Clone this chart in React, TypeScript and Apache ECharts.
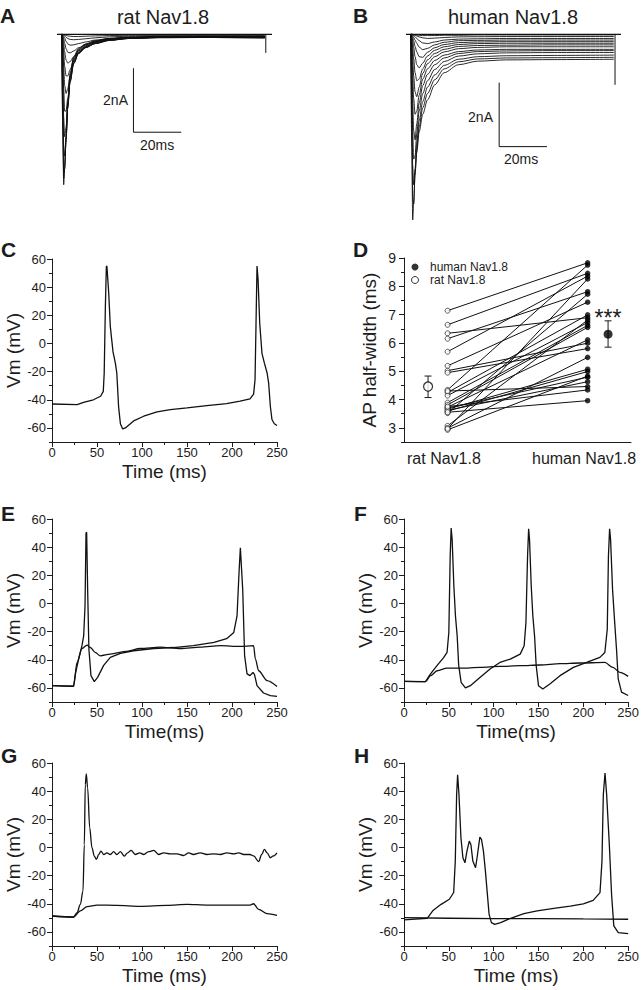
import React, { useEffect, useRef } from 'react';
import * as echarts from 'echarts';

const FONT = '"Liberation Sans", Arial, Helvetica, sans-serif';
const INK = '#1c1c1c';

// ---------- Panels A / B : Na+ current families ----------
const STEP_TIMES = [0, 0.4, 0.8, 1.2, 1.8, 2.5, 3.5, 5, 7, 10, 14, 20, 28, 40, 60, 85];
const RAT_CURRENTS = [
  [0, -3.0, -4.7, -4.2, -3.2, -2.1, -1.2, -0.7, -0.45, -0.3, -0.2, -0.13, -0.09, -0.07, -0.06, -0.06],
  [0, -2.6, -4.5, -4.2, -3.3, -2.2, -1.3, -0.74, -0.48, -0.32, -0.21, -0.14, -0.1, -0.08, -0.07, -0.07],
  [0, -2.2, -4.3, -4.1, -3.3, -2.3, -1.35, -0.78, -0.5, -0.33, -0.22, -0.14, -0.1, -0.08, -0.07, -0.07],
  [0, -1.5, -3.5, -3.8, -3.2, -2.3, -1.45, -0.85, -0.55, -0.36, -0.24, -0.16, -0.11, -0.09, -0.08, -0.08],
  [0, -0.9, -2.6, -3.2, -2.9, -2.2, -1.5, -0.9, -0.58, -0.39, -0.26, -0.17, -0.12, -0.1, -0.09, -0.09],
  [0, -0.5, -1.7, -2.4, -2.4, -2.0, -1.45, -0.92, -0.6, -0.41, -0.28, -0.18, -0.13, -0.1, -0.09, -0.1],
  [0, -0.3, -1.0, -1.6, -1.85, -1.7, -1.3, -0.9, -0.6, -0.42, -0.29, -0.19, -0.13, -0.1, -0.1, -0.11],
  [0, -0.15, -0.55, -1.0, -1.3, -1.3, -1.1, -0.82, -0.58, -0.41, -0.29, -0.19, -0.13, -0.11, -0.1, -0.11],
  [0, -0.08, -0.3, -0.55, -0.8, -0.9, -0.85, -0.7, -0.52, -0.38, -0.27, -0.18, -0.13, -0.1, -0.1, -0.11],
  [0, -0.04, -0.14, -0.28, -0.45, -0.56, -0.58, -0.52, -0.42, -0.32, -0.24, -0.16, -0.11, -0.09, -0.09, -0.1],
  [0, -0.02, -0.06, -0.12, -0.22, -0.3, -0.34, -0.33, -0.29, -0.24, -0.18, -0.13, -0.09, -0.07, -0.07, -0.08],
  [0, -0.01, -0.02, -0.05, -0.09, -0.13, -0.16, -0.17, -0.16, -0.14, -0.11, -0.08, -0.06, -0.05, -0.05, -0.05],
  [0, 0, -0.01, -0.02, -0.03, -0.05, -0.06, -0.07, -0.07, -0.06, -0.05, -0.04, -0.03, -0.03, -0.03, -0.03],
];
const HUMAN_CURRENTS = [
  [0, -3.5, -5.8, -5.3, -4.3, -3.7, -3.05, -2.5, -2.05, -1.58, -1.2, -0.95, -0.84, -0.8, -0.79, -0.78],
  [0, -2.6, -5.1, -5.3, -4.4, -3.6, -2.9, -2.3, -1.85, -1.42, -1.08, -0.86, -0.77, -0.74, -0.73, -0.72],
  [0, -1.8, -4.1, -4.7, -4.2, -3.4, -2.7, -2.1, -1.65, -1.27, -0.97, -0.78, -0.7, -0.67, -0.66, -0.65],
  [0, -1.1, -3.0, -3.9, -3.8, -3.1, -2.4, -1.85, -1.45, -1.1, -0.85, -0.68, -0.61, -0.58, -0.57, -0.57],
  [0, -0.6, -2.0, -3.0, -3.3, -2.8, -2.15, -1.6, -1.25, -0.95, -0.74, -0.6, -0.54, -0.52, -0.51, -0.51],
  [0, -0.35, -1.2, -2.0, -2.5, -2.4, -1.9, -1.4, -1.08, -0.82, -0.65, -0.54, -0.49, -0.47, -0.47, -0.47],
  [0, -0.2, -0.7, -1.3, -1.8, -1.95, -1.65, -1.22, -0.92, -0.7, -0.55, -0.45, -0.41, -0.39, -0.39, -0.39],
  [0, -0.1, -0.4, -0.75, -1.2, -1.45, -1.4, -1.08, -0.8, -0.6, -0.47, -0.38, -0.35, -0.34, -0.33, -0.33],
  [0, -0.05, -0.2, -0.4, -0.7, -0.95, -1.05, -0.9, -0.68, -0.5, -0.39, -0.32, -0.29, -0.28, -0.28, -0.28],
  [0, -0.03, -0.1, -0.2, -0.38, -0.55, -0.7, -0.72, -0.56, -0.42, -0.32, -0.26, -0.24, -0.23, -0.23, -0.23],
  [0, -0.01, -0.05, -0.1, -0.18, -0.28, -0.4, -0.48, -0.44, -0.33, -0.25, -0.2, -0.19, -0.18, -0.18, -0.18],
  [0, 0, -0.02, -0.04, -0.08, -0.13, -0.2, -0.27, -0.29, -0.24, -0.18, -0.15, -0.14, -0.13, -0.13, -0.13],
  [0, 0, -0.01, -0.02, -0.03, -0.05, -0.08, -0.11, -0.13, -0.12, -0.1, -0.08, -0.075, -0.07, -0.07, -0.07],
  [0, 0, 0, -0.01, -0.01, -0.02, -0.03, -0.04, -0.04, -0.04, -0.03, -0.03, -0.02, -0.02, -0.02, -0.02],
];
const RAT_HOLDING = [[-2, 0], [88, 0]];
const RAT_TAIL = [[85.4, 0], [85.4, -0.58]];
const HUMAN_HOLDING = [[-2, 0], [88, 0]];
const HUMAN_TAIL = [[85.5, 0], [85.5, -1.58]];
const RAT_SCALE_BAR = [[30, -1.06], [30, -3.06], [50, -3.06]];
const HUMAN_SCALE_BAR = [[37, -1.51], [37, -3.51], [57, -3.51]];

// ---------- Panel C ----------
const C_TRACE = [
  [0, -43], [28, -43.5], [35, -41.8], [46, -40], [54, -37.5], [57, -34], [58, -21], [59.3, 26], [60.4, 54.6],
  [61, 55], [63, 36], [64.8, 12], [67.8, -6], [70.4, -14], [72, -21], [74, -45], [76, -57], [78.5, -60.7],
  [81.5, -60], [90.7, -55], [101.9, -51.7], [116.7, -48.6], [131.5, -47], [150, -45.8], [172, -44.2],
  [194, -42.7], [209, -41], [220, -39.4], [224, -36], [225.6, -25.7], [226.7, 14.4], [227.8, 55], [229, 45],
  [230.8, 14.4], [233.3, -7], [236, -14], [239, -21], [240.7, -28], [242.6, -44.6], [244.4, -54], [247, -57],
  [250, -58.3],
];

// ---------- Panel D ----------
const RAT_HALF_WIDTH = [7.14, 6.64, 6.34, 6.15, 5.69, 5.19, 5.02, 4.95, 4.34, 4.25, 4.14, 3.89, 3.81,
  3.73, 3.66, 3.59, 3.52, 3.07, 2.99, 2.93, 4.3, 3.7, 3.62, 3.75, 3.55, 2.97];
const HUMAN_HALF_WIDTH = [8.83, 8.46, 6.89, 7.81, 8.36, 7.44, 5.99, 5.8, 8.75, 6.99, 6.72, 6.62, 6.55,
  6.11, 5.07, 4.99, 7.72, 6.81, 5.49, 4.83, 4.46, 4.79, 4.63, 4.34, 3.96, 8.26];
const GROUP_MEANS = [4.46, 6.31];
const GROUP_LOW = [4.07, 5.85];
const GROUP_HIGH = [4.83, 6.78];
const D_CATEGORIES = ['rat Nav1.8', 'human Nav1.8'];

// ---------- Panel E ----------
const E_SPIKING = [
  [0, -58.4], [24, -58.8], [26, -50], [29.6, -39.5], [33.3, -30], [35.2, -23], [36.7, -1.8], [37.8, 50],
  [38.5, 50.6], [39.6, 10], [41, -32.4], [43.3, -51.3], [47, -55.5], [50.7, -52.5], [57.4, -44], [64.8, -38.3],
  [76, -35.5], [90.7, -33.6], [113, -32], [135, -31.3], [157, -30], [180, -27.7], [194, -25], [202, -20.6],
  [205.6, -8.9], [207.8, 21.8], [209.3, 39.5], [210, 39.5], [211.9, 10], [214, -37], [216.7, -50], [220, -51.3],
  [223.3, -49], [225, -50.5], [227.8, -58.4], [235, -63.6], [242.6, -65.4], [250, -66],
];
const E_SUBTHRESHOLD = [
  [0, -58.4], [24, -58.8], [27.8, -41.9], [33.3, -32], [39, -29.6], [42.6, -31.3], [48, -34.8], [53.7, -37.2],
  [64.8, -36], [83, -34], [98, -32], [120, -31], [142.6, -32], [164.8, -31], [187, -30], [209, -30.5], [224, -30],
  [226, -39.5], [229.6, -47.8], [239, -54.8], [250, -59],
];

// ---------- Panel F ----------
const F_SPIKING = [
  [0, -55.3], [24, -55.5], [29.6, -50], [37, -44], [44.4, -38.3], [48, -34.8], [50, -20.6], [51.5, 33.6],
  [52.6, 53.6], [53.7, 45.4], [55.6, 12.4], [57.4, -8.9], [59.3, -23], [61, -44], [63.7, -56], [68.5, -60],
  [74, -58.4], [85, -52.5], [96, -46.6], [107, -41.9], [118.5, -39.5], [129.6, -36], [134, -30], [136, -13.6],
  [137.8, 33.6], [139, 53], [140, 45.4], [141.9, 12.4], [143.7, -8.9], [145.6, -23], [147.4, -44], [150, -58.4],
  [154.8, -60.7], [163, -57], [174, -51.3], [188.9, -45.4], [203.7, -41.9], [218.5, -38.3], [224, -34.8],
  [226.7, -18.3], [228, 33.6], [229.3, 53], [230.4, 45.4], [232.6, 10], [235, -13.6], [237, -32.4],
  [238.9, -53.6], [242.6, -63], [250, -65.4],
];
const F_SUBTHRESHOLD = [
  [0, -55.3], [24, -55.5], [29.6, -51.3], [37, -47.8], [48, -46], [63, -46], [85, -45.4], [107, -44.7],
  [129.6, -44.2], [152, -43.7], [174, -42.8], [196, -42.3], [224, -41.9], [233, -45.4], [240.7, -49],
  [250, -51.8],
];

// ---------- Panel G ----------
const G_SPIKING = [
  [0, -48.7], [24, -49.4], [27.8, -46.3], [31.5, -40.4], [34.4, -31], [35.9, 2], [37, 44.6], [38.1, 52.2],
  [39.6, 42.3], [41.9, 14], [44.4, -0.2], [47, -6.1], [49.3, -8.5], [51.9, -5], [54.4, -2.6], [57.4, -5],
  [61, -3.8], [64.8, -5], [68.5, -3], [72, -5], [76, -3], [80.4, -6.1], [84, -3.8], [87.8, -2.1], [92.6, -5],
  [97.4, -3.8], [101.9, -5], [107.4, -3], [113, -2.1], [118.5, -5], [124, -3.8], [131.5, -4.5], [138.9, -4.5],
  [146, -5.7], [151.9, -3.8], [157, -5], [164.8, -3.8], [172, -5], [179.6, -4.5], [187, -5], [194.4, -3.8],
  [201.9, -4.5], [207.4, -3.8], [213, -5], [220, -5], [224, -6], [229.6, -10], [233, -5], [236, -1.4],
  [239, -3.8], [242.6, -7.3], [246, -6], [250, -3.8],
];
const G_SUBTHRESHOLD = [
  [0, -48.7], [24, -49.4], [31.5, -45], [39, -42], [50, -40.9], [72, -41.1], [98, -41.8], [127.8, -41.1],
  [150, -40.4], [172, -40.9], [194.4, -40.9], [220, -40.9], [224, -40], [229.6, -44], [239, -47], [250, -48.2],
];

// ---------- Panel H ----------
const H_SPIKING = [
  [0, -51.5], [25.9, -50.3], [32, -45], [41.4, -40.4], [50.6, -36.8], [55.4, -32], [57.2, -9.7], [58.7, 37.6],
  [59.8, 51.7], [61.3, 37.6], [63.5, 6.9], [65.7, -7.3], [68, -10.9], [70.2, -2.6], [72.8, 4.5], [74.6, 2.1],
  [76.8, -9.7], [79.8, -14.4], [82, -5], [84.6, 7.3], [86.4, 5.7], [88.6, -2.6], [90.8, -16.8], [93, -33.3],
  [94.9, -47.5], [97.5, -53.4], [101.2, -54.6], [107.8, -53.4], [118.9, -50.3], [133.7, -47], [148.5, -45],
  [167, -43.2], [185.4, -41.6], [200, -40], [211, -37.6], [218.6, -32.1], [220.8, -9.7], [222.3, 37.6],
  [224.2, 52.9], [226, 37.6], [229, 2.1], [231.5, -33.3], [234, -55.7], [239, -60.5], [250, -61.2],
];
const H_SUBTHRESHOLD = [[0, -49.9], [50, -50.3], [100, -50.6], [150, -50.5], [200, -50.8], [250, -51]];

// ---------- Axis ticks ----------
const VM_TICKS = [-60, -40, -20, 0, 20, 40, 60];
const HW_TICKS = [3, 4, 5, 6, 7, 8, 9];

const RAT_X = 19.2;
const HUMAN_X = 80.9;
const MEAN_X = [10.6, 89.9];
const CAT_LABEL_X = [17.6, 79.3];

const textBase = { fontFamily: FONT, color: INK };

function buildOption() {
  const grids = [
    { left: 57, top: 18.3, width: 215, height: 176 }, // A
    { left: 406, top: 18.3, width: 215, height: 208 }, // B
    { left: 52, top: 259, width: 225, height: 183 }, // C
    { left: 404, top: 258, width: 227, height: 184 }, // D
    { left: 52, top: 519, width: 225, height: 183 }, // E
    { left: 404, top: 519, width: 225, height: 183 }, // F
    { left: 52, top: 763, width: 225, height: 183 }, // G
    { left: 404, top: 763, width: 225, height: 183 }, // H
  ];
  const lineStyleAxis = { color: INK, width: 1 };

  const timeAxis = (gridIndex: number, name: string) => ({
    gridIndex, type: 'value', min: 0, max: 250, interval: 50,
    name, nameLocation: 'middle', nameGap: 20,
    nameTextStyle: { ...textBase, fontSize: 19 },
    axisLine: { show: true, onZero: false, lineStyle: lineStyleAxis },
    axisTick: { show: true, length: 5, lineStyle: lineStyleAxis },
    minorTick: { show: true, splitNumber: 2, length: 3, lineStyle: lineStyleAxis },
    axisLabel: { ...textBase, fontSize: 13, margin: 4 },
    splitLine: { show: false }, minorSplitLine: { show: false },
  });
  const vmMain = (gridIndex: number) => ({
    gridIndex, type: 'value', position: 'left', min: -70, max: 60, interval: 10,
    axisLine: { show: true, onZero: false, lineStyle: lineStyleAxis },
    axisTick: { show: true, length: 3, lineStyle: lineStyleAxis },
    axisLabel: { show: false }, splitLine: { show: false },
  });
  const vmLabels = (gridIndex: number) => ({
    gridIndex, type: 'value', position: 'left', min: -70, max: 60,
    name: 'Vm (mV)', nameLocation: 'middle', nameGap: 27, nameRotate: 90,
    nameTextStyle: { ...textBase, fontSize: 19 },
    axisLine: { show: false, onZero: false },
    axisTick: { show: true, length: 5, customValues: VM_TICKS, lineStyle: lineStyleAxis },
    axisLabel: { ...textBase, fontSize: 13, margin: 6, customValues: VM_TICKS },
    splitLine: { show: false },
  });

  const xAxis: any[] = [
    { gridIndex: 0, type: 'value', min: -2, max: 88, show: false },
    { gridIndex: 1, type: 'value', min: -2, max: 88, show: false },
    timeAxis(2, 'Time (ms)'),
    {
      gridIndex: 3, type: 'value', min: 0, max: 100,
      axisLine: { show: true, onZero: false, lineStyle: lineStyleAxis },
      axisTick: { show: false },
      axisLabel: {
        ...textBase, fontSize: 16, margin: 8, customValues: CAT_LABEL_X,
        formatter: (v: number) => (v < 50 ? D_CATEGORIES[0] : D_CATEGORIES[1]),
      },
      splitLine: { show: false },
    },
    timeAxis(4, 'Time(ms)'),
    timeAxis(5, 'Time(ms)'),
    timeAxis(6, 'Time (ms)'),
    timeAxis(7, 'Time (ms)'),
  ];

  const yAxis: any[] = [
    { gridIndex: 0, type: 'value', min: -5, max: 0.5, show: false },
    { gridIndex: 1, type: 'value', min: -6, max: 0.5, show: false },
    vmMain(2),
    {
      gridIndex: 3, type: 'value', position: 'left', min: 2.5, max: 9, interval: 0.5,
      axisLine: { show: true, onZero: false, lineStyle: lineStyleAxis },
      axisTick: { show: true, length: 3, lineStyle: lineStyleAxis },
      axisLabel: { show: false }, splitLine: { show: false },
    },
    vmMain(4), vmMain(5), vmMain(6), vmMain(7),
    vmLabels(2),
    {
      gridIndex: 3, type: 'value', position: 'left', min: 2.5, max: 9,
      name: 'AP half-width (ms)', nameLocation: 'middle', nameGap: 25, nameRotate: 90,
      nameTextStyle: { ...textBase, fontSize: 19 },
      axisLine: { show: false, onZero: false },
      axisTick: { show: true, length: 5, customValues: HW_TICKS, lineStyle: lineStyleAxis },
      axisLabel: { ...textBase, fontSize: 14, margin: 8, customValues: HW_TICKS },
      splitLine: { show: false },
    },
    vmLabels(4), vmLabels(5), vmLabels(6), vmLabels(7),
  ];

  const trace = (idx: number, data: number[][], width = 1.2, smooth: number | boolean = false) => ({
    type: 'line', xAxisIndex: idx, yAxisIndex: idx, data, showSymbol: false, symbol: 'none',
    smooth, smoothMonotone: 'x',
    lineStyle: { color: '#111', width }, silent: true, z: 2,
  });

  const series: any[] = [];
  RAT_CURRENTS.forEach((tr) => {
    series.push(trace(0, STEP_TIMES.map((t, i) => [t, tr[i]]), 0.9, 0.3));
  });
  HUMAN_CURRENTS.forEach((tr) => {
    series.push(trace(1, STEP_TIMES.map((t, i) => [t, tr[i]]), 0.9, 0.3));
  });
  series.push(trace(0, RAT_HOLDING, 1.2), trace(0, RAT_TAIL, 1), trace(0, RAT_SCALE_BAR, 1));
  series.push(trace(1, HUMAN_HOLDING, 1.2), trace(1, HUMAN_TAIL, 1), trace(1, HUMAN_SCALE_BAR, 1));

  series.push(trace(2, C_TRACE, 1.3));
  series.push(trace(4, E_SPIKING, 1.3), trace(4, E_SUBTHRESHOLD, 1.3, 0.3));
  series.push(trace(5, F_SPIKING, 1.3), trace(5, F_SUBTHRESHOLD, 1.3, 0.3));
  series.push(trace(6, G_SPIKING, 1.3, 0.35), trace(6, G_SUBTHRESHOLD, 1.3, 0.3));
  series.push(trace(7, H_SPIKING, 1.3), trace(7, H_SUBTHRESHOLD, 1.3));

  // Panel D paired lines
  RAT_HALF_WIDTH.forEach((r, i) => {
    series.push(trace(3, [[RAT_X, r], [HUMAN_X, HUMAN_HALF_WIDTH[i]]], 1));
  });
  series.push({
    type: 'scatter', name: 'human Nav1.8', xAxisIndex: 3, yAxisIndex: 3,
    data: HUMAN_HALF_WIDTH.map((v) => [HUMAN_X, v]), symbol: 'circle', symbolSize: 5.5,
    itemStyle: { color: '#000' }, z: 4, silent: true,
  });
  series.push({
    type: 'scatter', name: 'rat Nav1.8', xAxisIndex: 3, yAxisIndex: 3,
    data: RAT_HALF_WIDTH.map((v) => [RAT_X, v]), symbol: 'circle', symbolSize: 5,
    itemStyle: { color: '#fff', borderColor: '#000', borderWidth: 0.8 }, z: 4, silent: true,
  });
  series.push({
    type: 'custom', xAxisIndex: 3, yAxisIndex: 3, z: 3, silent: true,
    data: GROUP_MEANS.map((m, i) => [MEAN_X[i], m, GROUP_LOW[i], GROUP_HIGH[i]]),
    encode: { x: 0, y: 1 },
    renderItem: (_p: any, api: any) => {
      const x = api.value(0);
      const lo = api.coord([x, api.value(2)]);
      const hi = api.coord([x, api.value(3)]);
      const w = 3.5;
      const style = { stroke: INK, lineWidth: 1 };
      return {
        type: 'group',
        children: [
          { type: 'line', shape: { x1: lo[0], y1: lo[1], x2: hi[0], y2: hi[1] }, style },
          { type: 'line', shape: { x1: lo[0] - w, y1: lo[1], x2: lo[0] + w, y2: lo[1] }, style },
          { type: 'line', shape: { x1: hi[0] - w, y1: hi[1], x2: hi[0] + w, y2: hi[1] }, style },
        ],
      };
    },
  });
  series.push({
    type: 'scatter', name: 'rat mean', xAxisIndex: 3, yAxisIndex: 3,
    data: [[MEAN_X[0], GROUP_MEANS[0]]], symbol: 'circle', symbolSize: 9,
    itemStyle: { color: '#fff', borderColor: '#000', borderWidth: 1.2 }, z: 5, silent: true,
  });
  series.push({
    type: 'scatter', name: 'human mean', xAxisIndex: 3, yAxisIndex: 3,
    data: [[MEAN_X[1], GROUP_MEANS[1]]], symbol: 'circle', symbolSize: 9,
    itemStyle: { color: '#000' }, z: 5, silent: true,
  });

  const letter = (t: string, x: number, y: number) => ({
    type: 'text', left: x, top: y,
    style: { text: t, font: `bold 21px ${FONT}`, fill: INK },
  });
  const label = (t: string, x: number, y: number, size: number, align = 'center') => ({
    type: 'text', x, y,
    style: { text: t, font: `${size}px ${FONT}`, fill: INK, align, verticalAlign: 'middle' },
  });

  return {
    animation: false,
    backgroundColor: '#fff',
    grid: grids,
    xAxis, yAxis, series,
    legend: {
      data: [
        { name: 'human Nav1.8', icon: 'circle', itemStyle: { color: '#000' } },
        { name: 'rat Nav1.8', icon: 'circle', itemStyle: { color: '#fff', borderColor: '#000', borderWidth: 1 } },
      ],
      orient: 'vertical', left: 406, top: 256, itemWidth: 20, itemHeight: 7, itemGap: 1,
      textStyle: { ...textBase, fontSize: 12 }, selectedMode: false,
    },
    graphic: [
      letter('A', 0, 5), letter('B', 353, 5), letter('C', 1, 239), letter('D', 353, 239),
      letter('E', 1, 503), letter('F', 354, 503), letter('G', 1, 745), letter('H', 354, 745),
      label('rat Nav1.8', 163, 17, 20), label('human Nav1.8', 513, 17, 20),
      label('2nA', 128, 100, 14, 'right'), label('20ms', 157, 145, 14),
      label('2nA', 493, 117, 14, 'right'), label('20ms', 521, 159, 14),
      label('***', 608, 318, 23),
    ],
  };
}

export default function App() {
  const ref = useRef<HTMLDivElement>(null);
  useEffect(() => {
    if (!ref.current) return;
    const chart = echarts.init(ref.current, null, { renderer: 'svg' });
    chart.setOption(buildOption() as any);
    return () => chart.dispose();
  }, []);
  return (
    <div
      ref={ref}
      style={{ position: 'absolute', left: 0, top: 0, width: 642, height: 990, background: '#fff' }}
    />
  );
}
